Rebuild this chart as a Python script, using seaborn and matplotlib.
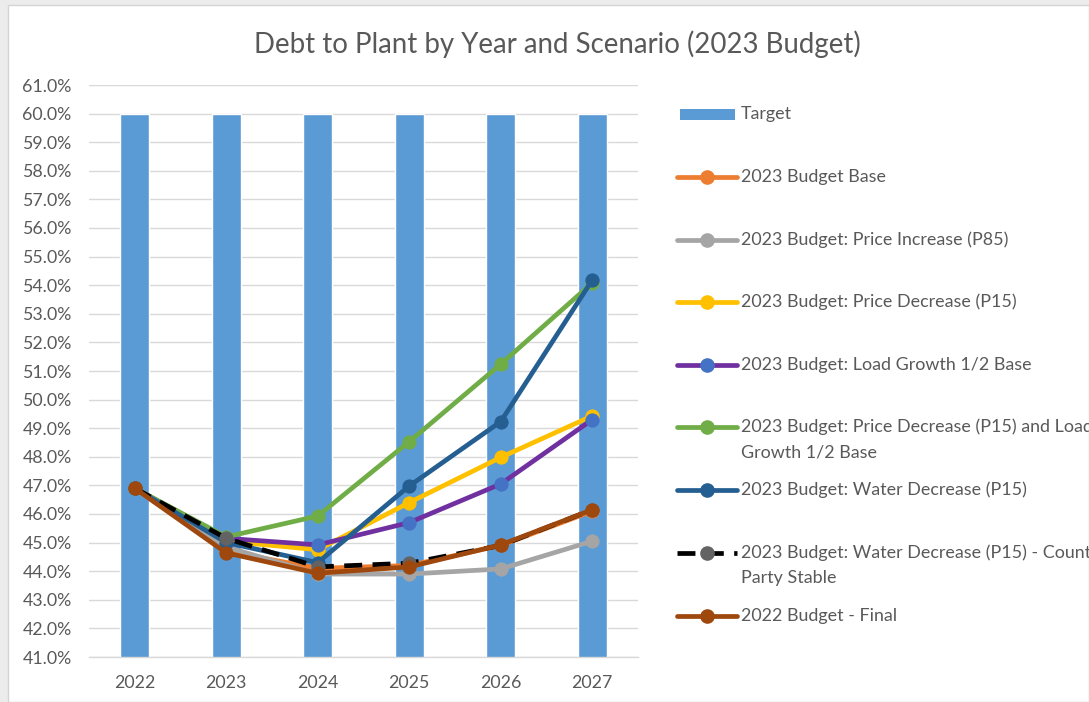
import matplotlib
matplotlib.use("Agg")
import matplotlib.pyplot as plt
from matplotlib.lines import Line2D
from matplotlib.patches import Rectangle
from matplotlib.ticker import FuncFormatter, MultipleLocator
import numpy as np
import pandas as pd
import seaborn as sns

# ---- data (debt to plant ratio, %) ----
years = ["2022", "2023", "2024", "2025", "2026", "2027"]
target = [60.0, 60.0, 60.0, 60.0, 60.0, 60.0]
budget_base = [46.9, 44.7, 44.1, 44.2, 44.9, 46.1]
price_increase_p85 = [46.9, 44.85, 43.9, 43.9, 44.08, 45.05]
price_decrease_p15 = [46.9, 45.05, 44.75, 46.4, 47.98, 49.43]
load_growth_half = [46.9, 45.15, 44.92, 45.7, 47.05, 49.3]
price_dec_and_load = [46.9, 45.2, 45.93, 48.53, 51.24, 54.08]
water_decrease_p15 = [46.9, 45.0, 44.3, 46.98, 49.23, 54.18]
water_dec_counterparty = [46.9, 45.15, 44.15, 44.28, 44.9, 46.15]
budget_2022_final = [46.9, 44.64, 43.93, 44.15, 44.92, 46.15]

series_names = [
    "2023 Budget Base",
    "2023 Budget: Price Increase (P85)",
    "2023 Budget: Price Decrease (P15)",
    "2023 Budget: Load Growth 1/2 Base",
    "2023 Budget: Price Decrease (P15) and Load Growth 1/2 Base",
    "2023 Budget: Water Decrease (P15)",
    "2023 Budget: Water Decrease (P15) - Counter Party Stable",
    "2022 Budget - Final",
]
series_values = [budget_base, price_increase_p85, price_decrease_p15, load_growth_half,
                 price_dec_and_load, water_decrease_p15, water_dec_counterparty,
                 budget_2022_final]

# styles: (line colour, marker colour, dashed)
styles = [
    ("#ed7d31", "#ed7d31", False),
    ("#a5a5a5", "#a5a5a5", False),
    ("#ffc000", "#ffc000", False),
    ("#7030a0", "#4472c4", False),
    ("#70ad47", "#70ad47", False),
    ("#255e91", "#255e91", False),
    ("#000000", "#636363", True),
    ("#9e480e", "#9e480e", False),
]
# legend label lines (wrapped like the chart legend)
legend_lines = [
    ["2023 Budget Base"],
    ["2023 Budget: Price Increase (P85)"],
    ["2023 Budget: Price Decrease (P15)"],
    ["2023 Budget: Load Growth 1/2 Base"],
    ["2023 Budget: Price Decrease (P15) and Load", "Growth 1/2 Base"],
    ["2023 Budget: Water Decrease (P15)"],
    ["2023 Budget: Water Decrease (P15) - Counter", "Party Stable"],
    ["2022 Budget - Final"],
]

sns.set_theme(style="white")
FONT = "Lato"
TXT = "#595959"
plt.rcParams["font.family"] = [FONT, "DejaVu Sans"]

W, H = 1089, 702
fig = plt.figure(figsize=(W / 100, H / 100), dpi=100)
fig.patch.set_facecolor("#ececec")


def fx(x):
    return x / W


def fy(y):
    return 1 - y / H


# chart area panel
fig.add_artist(Rectangle((fx(8), 0), 1 - fx(8), fy(5), transform=fig.transFigure,
                         facecolor="white", edgecolor="#d4d4d4", lw=1.0, zorder=0))

ax = fig.add_axes([fx(89), fy(657), fx(638) - fx(89), fy(85) - fy(657)])
ax.set_facecolor("none")

df_bar = pd.DataFrame({"year": years, "value": target})
sns.barplot(data=df_bar, x="year", y="value", color="#5b9bd5", saturation=1,
            width=0.317, ax=ax, zorder=2)

x = np.arange(len(years))
for name, vals, (lc, mc, dashed) in zip(series_names, series_values, styles):
    d = pd.DataFrame({"x": x, "y": vals})
    sns.lineplot(data=d, x="x", y="y", ax=ax, color=lc, lw=3.4, marker="o",
                 markersize=9.5, markerfacecolor=mc, markeredgecolor=mc,
                 linestyle=(0, (3.8, 2.2)) if dashed else "-", zorder=3,
                 legend=False)

ax.set_xlim(-0.5, len(years) - 0.5)
ax.set_ylim(41, 61)
ax.yaxis.set_major_locator(MultipleLocator(1))
ax.yaxis.set_major_formatter(FuncFormatter(lambda v, p: f"{v:.1f}%"))
ax.grid(axis="y", color="#d9d9d9", lw=1.0, zorder=0)
ax.set_axisbelow(True)
for s in ["top", "right", "left"]:
    ax.spines[s].set_visible(False)
ax.spines["bottom"].set_color("#d9d9d9")
ax.spines["bottom"].set_linewidth(1.0)
ax.set_xlabel("")
ax.set_ylabel("")
ax.tick_params(axis="both", length=0, labelsize=12.8, labelcolor=TXT)
ax.tick_params(axis="y", pad=12.5)
ax.tick_params(axis="x", pad=13)

fig.text(fx(557), fy(44), "Debt to Plant by Year and Scenario (2023 Budget)",
         ha="center", va="center", fontsize=19.9, color=TXT)

# legend
LFS = 12.9
fig.add_artist(Rectangle((fx(680), fy(120)), fx(735) - fx(680), fy(109) - fy(120),
                         transform=fig.transFigure, facecolor="#5b9bd5", edgecolor="none"))
fig.text(fx(741), fy(114), "Target", ha="left", va="center", fontsize=LFS, color=TXT)
slot_y = [177, 240, 302, 365, 427, 490, 553, 616]
for yy, lines, (lc, mc, dashed) in zip(slot_y, legend_lines, styles):
    fig.add_artist(Line2D([fx(677), fx(737)], [fy(yy), fy(yy)], transform=fig.transFigure,
                          color=lc, lw=3.4,
                          linestyle=(0, (3.8, 2.2)) if dashed else "-"))
    fig.add_artist(Line2D([fx(707)], [fy(yy)], transform=fig.transFigure, marker="o",
                          markersize=9.5, color=mc, markeredgecolor=mc, linestyle="none"))
    for k, t in enumerate(lines):
        fig.text(fx(741), fy(yy + 25 * k), t, ha="left", va="center", fontsize=LFS, color=TXT)

fig.savefig("out.png", dpi=100, facecolor=fig.get_facecolor())
